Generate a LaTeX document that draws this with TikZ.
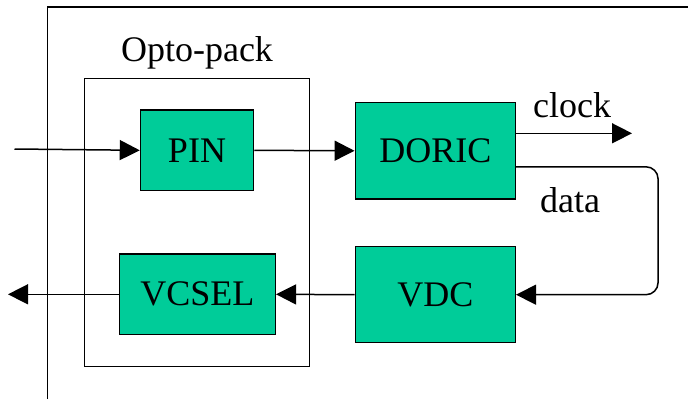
\documentclass[tikz,border=0pt]{standalone}
\usepackage{fontspec}
\newfontfamily\tnr{LiberationSerif-Regular.ttf}
\usetikzlibrary{arrows.meta}
\definecolor{boxgreen}{RGB}{0,204,153}
\begin{document}
\begin{tikzpicture}[x=1pt,y=-1pt,
  blk/.style={draw=black, line width=1.5pt, fill=boxgreen, inner sep=0pt, font=\tnr\fontsize{36}{40}\selectfont},
  lbl/.style={font=\tnr\fontsize{36}{40}\selectfont, inner sep=0pt},
  arr/.style={line width=1.5pt, -{Triangle[length=20pt,width=20pt]}}]
\useasboundingbox (0,0) rectangle (688,399);
% outer frame
\coordinate (fb) at (47.4,399);
\coordinate (ft) at (47.4,7);
\coordinate (fr) at (688,7);
\draw[line width=1.5pt] (fb) -- (ft) -- (fr);
% opto-pack
\node (opto) [draw=black, line width=1pt, minimum width=225pt, minimum height=288pt, inner sep=0pt] at (197,222.5) {};
\node (optolbl) [lbl] at (197,53) {Opto-pack};
% blocks
\node (PIN) [blk, minimum width=113pt, minimum height=80.7pt] at (197,150.3) {PIN};
\node (DORIC) [blk, minimum width=160pt, minimum height=96.3pt] at (435.3,150.8) {DORIC};
\node (VDC) [blk, minimum width=160pt, minimum height=96pt] at (435.3,294.7) {VDC};
\node (VCSEL) [blk, minimum width=156pt, minimum height=80.7pt] at (197.3,294.3) {VCSEL};
% labels
\node (clklbl) [lbl] at (572,105) {clock};
\node (datalbl) [lbl] at (570,200) {data};
% connectors
\coordinate (in) at (14.5,149);
\coordinate (out) at (8,294.3);
\coordinate (clk) at (632,133.3);
\draw[arr] (in) -- (PIN.west);
\draw[arr] (PIN.east) -- (DORIC.west);
\draw[arr] ([yshift=17.5pt]DORIC.east) -- (clk);
\draw[arr, rounded corners=12pt] ([yshift=-16pt]DORIC.east) -| ([xshift=142pt]VDC.east) -- (VDC.east);
\draw[arr] (VDC.west) -- (VCSEL.east);
\draw[arr] (VCSEL.west) -- (out);
\end{tikzpicture}
\end{document}
